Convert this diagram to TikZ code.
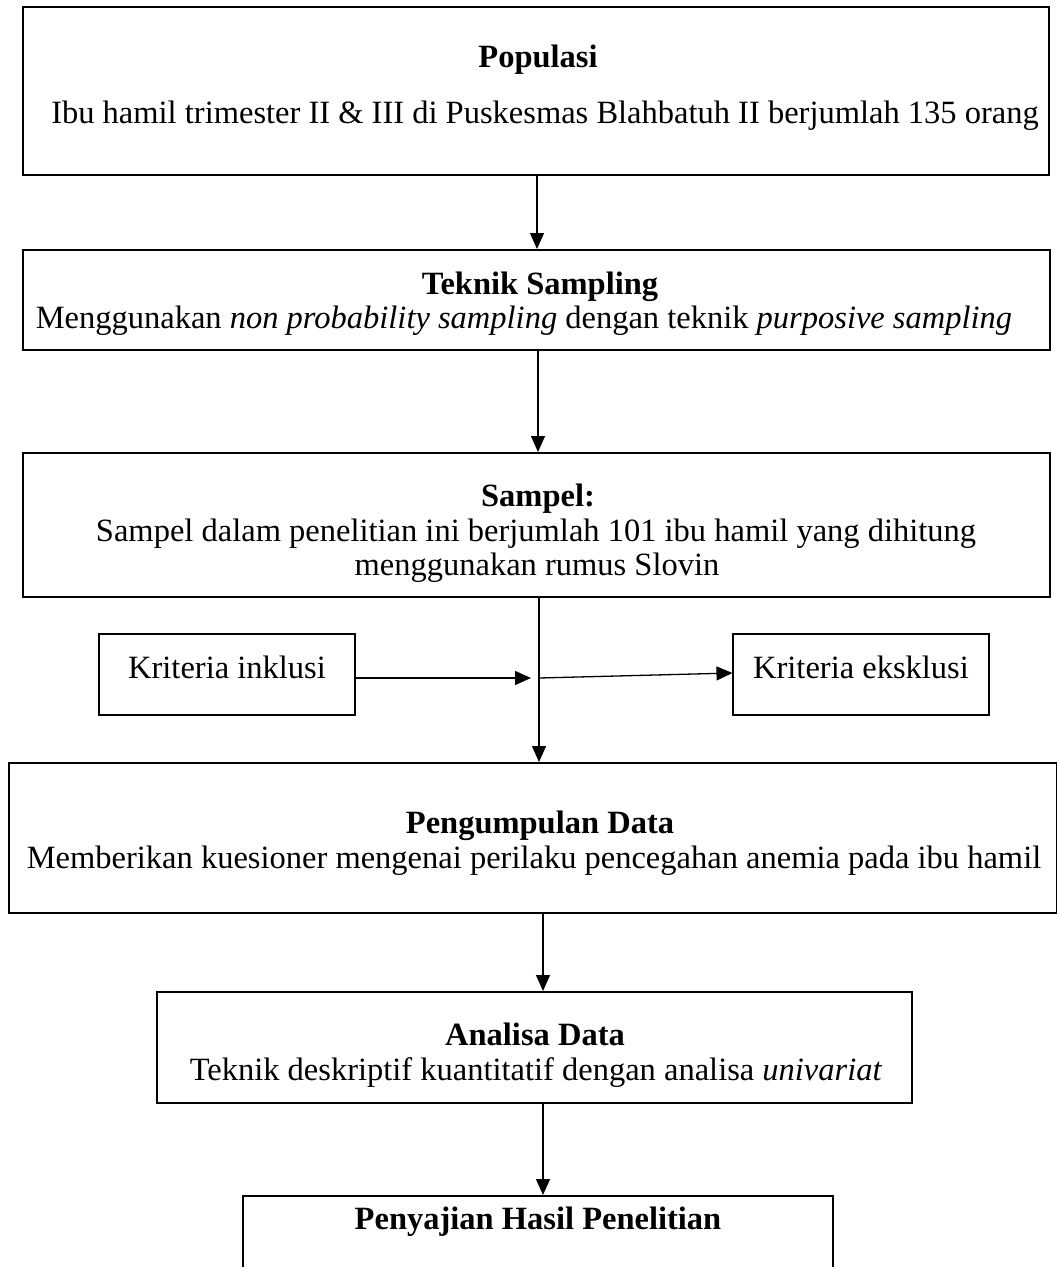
\documentclass[tikz,border=0pt]{standalone}
\usepackage{fontspec}
\setmainfont{Liberation Serif}
\usetikzlibrary{arrows.meta}
\begin{document}
\begin{tikzpicture}[x=1pt,y=-1pt,
  bigbox/.style={draw,line width=2pt,inner sep=0pt,rectangle},
  smallbox/.style={draw,line width=1.1pt,inner sep=0pt,rectangle,minimum width=256pt,minimum height=81pt},
  txt/.style={anchor=base,inner sep=0pt,font=\fontsize{32.5}{39}\selectfont},
  ttl/.style={txt,font=\fontsize{32.5}{39}\selectfont\bfseries},
  arr/.style={line width=1.3pt,-{Triangle[length=16pt,width=14pt]}}]
\useasboundingbox (0,0) rectangle (1057,1267);
% boxes
\node[bigbox,minimum width=1026pt,minimum height=168pt] (pop) at (536,91) {};
\node[bigbox,minimum width=1027pt,minimum height=100pt] (tek) at (536.5,300) {};
\node[bigbox,minimum width=1027pt,minimum height=144pt] (sam) at (536.5,525) {};
\node[smallbox] (inkl) at (227,674.5) {};
\node[smallbox] (eksk) at (861,674.5) {};
\node[bigbox,minimum width=1048pt,minimum height=150pt] (kump) at (533,838) {};
\node[bigbox,minimum width=755pt,minimum height=111pt] (anal) at (534.5,1047.5) {};
\node[bigbox,minimum width=590pt,minimum height=134pt] (saji) at (538,1263) {};
% texts
\node[ttl] (popT) at (538,67) {Populasi};
\node[txt] (popL) at (545,123) {Ibu hamil trimester II \& III di Puskesmas Blahbatuh II berjumlah 135 orang};
\node[ttl] (tekT) at (540,294) {Teknik Sampling};
\node[txt] (tekL) at (524,328) {Menggunakan \textit{non probability sampling} dengan teknik \textit{purposive sampling}};
\node[ttl] (samT) at (538,506) {Sampel:};
\node[txt] (samL1) at (536,541) {Sampel dalam penelitian ini berjumlah 101 ibu hamil yang dihitung};
\node[txt] (samL2) at (537,575) {menggunakan rumus Slovin};
\node[txt] (inklT) at (227,678) {Kriteria inklusi};
\node[txt] (ekskT) at (861,678) {Kriteria eksklusi};
\node[ttl] (kumpT) at (540,833) {Pengumpulan Data};
\node[txt] (kumpL) at (534,868) {Memberikan kuesioner mengenai perilaku pencegahan anemia pada ibu hamil};
\node[ttl] (analT) at (535,1045) {Analisa Data};
\node[txt] (analL) at (536,1080) {Teknik deskriptif kuantitatif dengan analisa \textit{univariat}};
\node[ttl] (sajiT) at (538,1229) {Penyajian Hasil Penelitian};
% connectors
\coordinate (c1) at (537,0);
\coordinate (c2) at (538,0);
\coordinate (J) at (539,678);
\coordinate (c4) at (543,0);
\draw[arr] (pop.south -| c1) -- (tek.north -| c1);
\draw[arr] (tek.south -| c2) -- (sam.north -| c2);
\draw[arr] (sam.south -| J) -- (kump.north -| J);
\draw[arr] (inkl.east |- J) -- ([xshift=-8pt]J);
\draw[arr] (J) -- ([yshift=1.5pt]eksk.west);
\draw[arr] (kump.south -| c4) -- (anal.north -| c4);
\draw[arr] (anal.south -| c4) -- (saji.north -| c4);
\end{tikzpicture}
\end{document}
